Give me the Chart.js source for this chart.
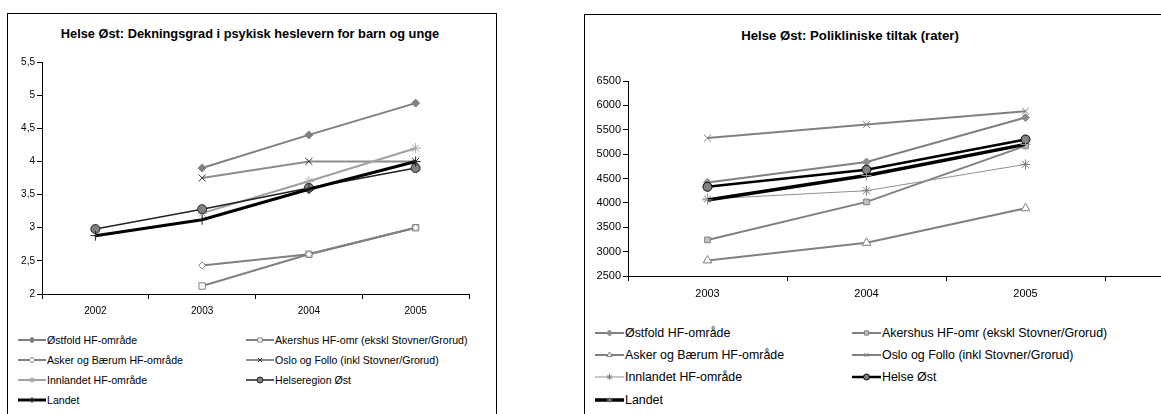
<!DOCTYPE html>
<html>
<head>
<meta charset="utf-8">
<script src="https://cdn.jsdelivr.net/npm/chart.js@4/dist/chart.umd.min.js"></script>
<style>
  html, body { margin: 0; padding: 0; background: #fff; overflow: hidden; }
  body { width: 1161px; height: 414px; position: relative; font-family: "Liberation Sans", Arial, sans-serif; }
  .box { position: absolute; border: 1px solid #000; box-sizing: border-box; }
  .title { position: absolute; font-weight: bold; color: #000; white-space: nowrap; transform: translate(-50%, -50%); }
  .cv { position: absolute; }
  .leg { position: absolute; display: flex; align-items: center; white-space: nowrap; color: #000; transform: translateY(-50%); }
  .leg canvas { display: block; margin-right: 1px; }
</style>
</head>
<body>
<div class="box" style="left:7px;top:13px;width:490px;height:440px;"></div>
<div class="box" style="left:584px;top:14px;width:640px;height:440px;"></div>
<div class="title" style="left:250px;top:33px;font-size:12.8px;">Helse Øst: Dekningsgrad i psykisk heslevern for barn og unge</div>
<div class="title" style="left:850px;top:35px;font-size:13.2px;">Helse Øst: Polikliniske tiltak (rater)</div>
<div class="cv" style="left:7px;top:13px;width:490px;height:310px;"><canvas id="chart1"></canvas></div>
<div class="cv" style="left:584px;top:14px;width:600px;height:290px;"><canvas id="chart2"></canvas></div>
<div id="legends"></div>
<script>
// ---- left chart data: Dekningsgrad ----
var years1 = ['2002', '2003', '2004', '2005'];
var ostfold1 = [null, 3.9, 4.4, 4.88];
var akershus1 = [null, 2.12, 2.6, 3.0];
var askerBaerum1 = [null, 2.43, 2.6, 3.0];
var osloFollo1 = [null, 3.75, 4.0, 4.0];
var innlandet1 = [null, 3.22, 3.7, 4.2];
var helseregion1 = [2.98, 3.28, 3.6, 3.9];
var landet1 = [2.88, 3.12, 3.58, 4.0];
var yTicks1 = [2, 2.5, 3, 3.5, 4, 4.5, 5, 5.5];

// ---- right chart data: Polikliniske tiltak ----
var years2 = ['2003', '2004', '2005'];
var ostfold2 = [4420, 4840, 5750];
var akershus2 = [3240, 4020, 5170];
var askerBaerum2 = [2820, 3180, 3890];
var osloFollo2 = [5330, 5610, 5880];
var innlandet2 = [4080, 4250, 4790];
var helseOst2 = [4330, 4680, 5300];
var landet2 = [4060, 4560, 5200];
var yTicks2 = [2500, 3000, 3500, 4000, 4500, 5000, 5500, 6000, 6500];

var names1 = ['Østfold HF-område', 'Akershus HF-omr (ekskl Stovner/Grorud)', 'Asker og Bærum HF-område',
  'Oslo og Follo (inkl Stovner/Grorud)', 'Innlandet HF-område', 'Helseregion Øst', 'Landet'];
var names2 = ['Østfold HF-område', 'Akershus HF-omr (ekskl Stovner/Grorud)', 'Asker og Bærum HF-område',
  'Oslo og Follo (inkl Stovner/Grorud)', 'Innlandet HF-område', 'Helse Øst', 'Landet'];

// line / marker styles
var styles1 = [
  { line: '#808080', w: 2, ps: 'rectRot', r: 4, fill: '#808080', stroke: '#808080' },
  { line: '#808080', w: 2, ps: 'rect', r: 4.5, fill: '#fff', stroke: '#808080' },
  { line: '#808080', w: 2, ps: 'rectRot', r: 3.5, fill: '#fff', stroke: '#808080' },
  { line: '#8c8c8c', w: 2, ps: 'crossRot', r: 5, fill: '#333', stroke: '#333' },
  { line: '#a0a0a0', w: 2, ps: 'star', r: 5, fill: '#a6a6a6', stroke: '#a6a6a6' },
  { line: '#222', w: 1.5, ps: 'circle', r: 4.5, fill: '#808080', stroke: '#222' },
  { line: '#000', w: 3, ps: 'cross', r: 5, fill: '#222', stroke: '#222' }
];
var styles2 = [
  { line: '#808080', w: 2, ps: 'rectRot', r: 4, fill: '#8c8c8c', stroke: '#8c8c8c' },
  { line: '#808080', w: 2, ps: 'rect', r: 4, fill: '#c0c0c0', stroke: '#808080' },
  { line: '#808080', w: 2, ps: 'triangle', r: 5, fill: '#fff', stroke: '#808080' },
  { line: '#808080', w: 2, ps: 'crossRot', r: 5, fill: '#808080', stroke: '#808080' },
  { line: '#909090', w: 1, ps: 'star', r: 5, fill: '#808080', stroke: '#808080' },
  { line: '#000', w: 2.5, ps: 'circle', r: 4.5, fill: '#808080', stroke: '#000' },
  { line: '#000', w: 3.5, ps: 'cross', r: 5, fill: '#999', stroke: '#999' }
];

function buildSets(series, names, styles) {
  return series.map(function (vals, i) {
    var s = styles[i];
    return {
      label: names[i],
      data: vals,
      borderColor: s.line,
      borderWidth: s.w,
      pointStyle: s.ps,
      pointRadius: s.r,
      pointBackgroundColor: s.fill,
      pointBorderColor: s.stroke,
      pointBorderWidth: 1,
      tension: 0,
      fill: false,
      order: series.length - i // last series drawn on top, like the original
    };
  });
}

// the category axis of the right chart runs on past the last category
var axisTail = {
  id: 'axisTail',
  afterDraw: function (chart, args, o) {
    if (!o.on) return;
    var ctx = chart.ctx, a = chart.chartArea;
    ctx.save();
    ctx.strokeStyle = '#000';
    ctx.lineWidth = 1;
    ctx.beginPath();
    ctx.moveTo(a.right, Math.round(a.bottom) + 0.5);
    ctx.lineTo(chart.width, Math.round(a.bottom) + 0.5);
    ctx.stroke();
    ctx.restore();
  }
};

function makeChart(id, labels, sets, ticks, fmt, opt) {
  return new Chart(document.getElementById(id), {
    type: 'line',
    data: { labels: labels, datasets: sets },
    options: {
      responsive: true,
      maintainAspectRatio: false,
      animation: false,
      layout: { padding: { top: opt.top, right: opt.right, left: 0, bottom: 0 } },
      plugins: { legend: { display: false }, tooltip: { enabled: false }, axisTail: { on: opt.tail } },
      scales: {
        x: {
          offset: true,
          grid: { offset: true, drawOnChartArea: false, drawTicks: true, tickLength: 5, color: '#000' },
          border: { color: '#000', width: 1 },
          ticks: { color: '#000', font: { family: 'Liberation Sans', size: opt.font }, padding: opt.xpad, maxRotation: 0 },
          afterFit: function (s) { s.height = opt.xh; }
        },
        y: {
          min: ticks[0],
          max: ticks[ticks.length - 1],
          afterBuildTicks: function (s) { s.ticks = ticks.map(function (v) { return { value: v }; }); },
          grid: { drawOnChartArea: false, drawTicks: true, tickLength: 5, color: '#000' },
          border: { color: '#000', width: 1 },
          ticks: { color: '#000', font: { family: 'Liberation Sans', size: opt.font }, padding: 2, callback: fmt },
          afterFit: function (s) { s.width = opt.yw; }
        }
      }
    },
    plugins: [axisTail]
  });
}

var sets1 = buildSets([ostfold1, akershus1, askerBaerum1, osloFollo1, innlandet1, helseregion1, landet1], names1, styles1);
var sets2 = buildSets([ostfold2, akershus2, askerBaerum2, osloFollo2, innlandet2, helseOst2, landet2], names2, styles2);

makeChart('chart1', years1, sets1, yTicks1,
  function (v) { return String(v).replace('.', ','); },
  { top: 49, right: 28, xh: 29, yw: 35, font: 10, xpad: 6, tail: false });
makeChart('chart2', years2, sets2, yTicks2,
  function (v) { return String(v); },
  { top: 67, right: 79, xh: 28, yw: 44, font: 11, xpad: 6, tail: true });

// HTML legends in two columns, samples drawn with Chart.js point helper
function drawLegend(sets, styles, cols, rows, fontSize, sw) {
  var host = document.getElementById('legends');
  sets.forEach(function (ds, i) {
    var s = styles[i];
    var item = document.createElement('div');
    item.className = 'leg';
    item.style.left = cols[i % 2] + 'px';
    item.style.top = rows[Math.floor(i / 2)] + 'px';
    item.style.fontSize = fontSize + 'px';
    var c = document.createElement('canvas');
    c.width = sw; c.height = 12;
    var ctx = c.getContext('2d');
    ctx.strokeStyle = s.line;
    ctx.lineWidth = s.w;
    ctx.beginPath(); ctx.moveTo(0, 6); ctx.lineTo(sw, 6); ctx.stroke();
    ctx.fillStyle = s.fill;
    ctx.strokeStyle = s.stroke;
    ctx.lineWidth = 1;
    Chart.helpers.drawPoint(ctx, { pointStyle: s.ps, radius: Math.min(s.r, 3.5) - 0.5, borderWidth: 1, rotation: 0 }, sw / 2, 6);
    item.appendChild(c);
    var t = document.createElement('span');
    t.textContent = ds.label;
    item.appendChild(t);
    host.appendChild(item);
  });
}
drawLegend(sets1, styles1, [18, 246], [340, 360, 380, 400], 10.6, 28);
drawLegend(sets2, styles2, [595, 852], [333, 355, 377, 400], 12.4, 29);
</script>
</body>
</html>
